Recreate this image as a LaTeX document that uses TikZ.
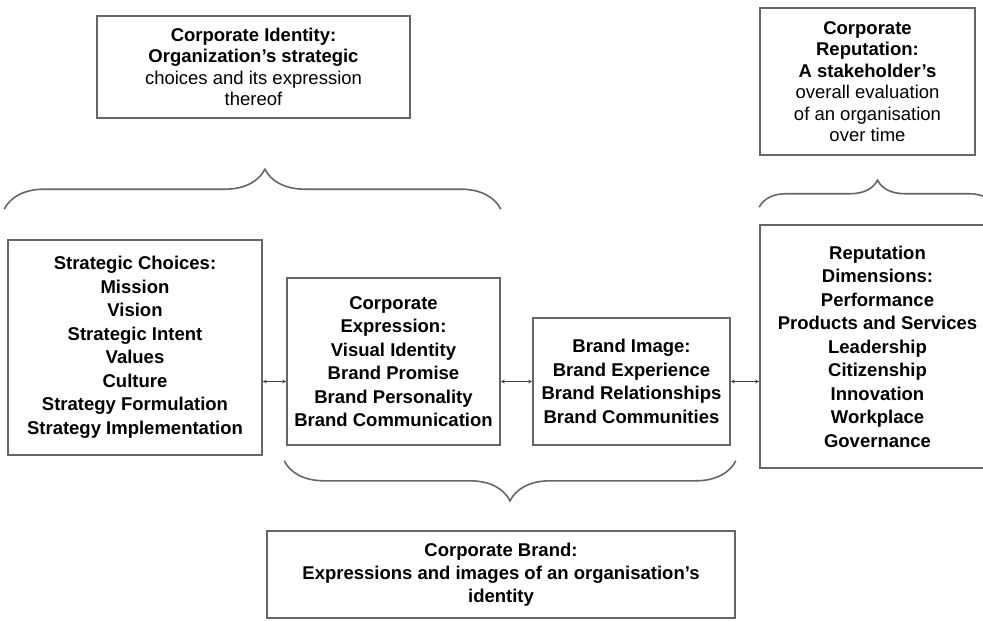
\documentclass[tikz,border=0pt]{standalone}
\usepackage{fontspec}
\setmainfont{Liberation Sans}
\usetikzlibrary{positioning}
\usetikzlibrary{arrows,shapes}
\usetikzlibrary{decorations.pathreplacing}
\usetikzlibrary{calc}
\tikzstyle{framebox}=[rectangle,draw=black!60,line width=1.6pt,align=center,inner sep=2pt,font=\bfseries\fontsize{18.5}{23.5}\selectfont]
\tikzstyle{headbox}=[framebox,font=\fontsize{18.5}{21.5}\selectfont]
\tikzstyle{link} = [draw,thick,<->,>=stealth,black!75]
\tikzstyle{curly} = [draw,line width=1.6pt,black!60,decorate]

\begin{document}
\begin{tikzpicture}[x=1pt,y=1pt]
    \useasboundingbox (0,0) rectangle (983,-621);

    % top boxes
    \node[headbox,minimum width=313pt,minimum height=102pt] (identity) at (253.5,-67)
        {\textbf{Corporate Identity:}\\ \textbf{Organization's strategic}\\ choices and its expression\\ thereof};
    \node[headbox,minimum width=215pt,minimum height=147pt] (reputation) at (867.5,-81.5)
        {\textbf{Corporate}\\ \textbf{Reputation:}\\ \textbf{A stakeholder's}\\ overall evaluation\\ of an organisation\\ over time};

    % middle row
    \node[framebox,minimum width=254pt,minimum height=215pt] (choices) at (135,-347.5)
        {Strategic Choices:\\ Mission\\ Vision\\ Strategic Intent\\ Values\\ Culture\\ Strategy Formulation\\ Strategy Implementation};
    \node[framebox,minimum width=213pt,minimum height=167pt] (expression) at (393.5,-361.5)
        {Corporate\\ Expression:\\ Visual Identity\\ Brand Promise\\ Brand Personality\\ Brand Communication};
    \node[framebox,minimum width=197pt,minimum height=127pt] (image) at (631.5,-381.5)
        {Brand Image:\\ Brand Experience\\ Brand Relationships\\ Brand Communities};
    \node[framebox,minimum width=235pt,minimum height=243pt] (dims) at (877.5,-346.5)
        {Reputation\\ Dimensions:\\ Performance\\ Products and Services\\ Leadership\\ Citizenship\\ Innovation\\ Workplace\\ Governance};

    % bottom box
    \node[framebox,font=\bfseries\fontsize{18.5}{23}\selectfont,minimum width=468pt,minimum height=87pt] (brand) at (501,-574.5)
        {Corporate Brand:\\ Expressions and images of an organisation's\\ identity};

    % links
    \foreach \source/\dest in {choices/expression, expression/image, image/dims}
        \path[link] (\source.east |- image.west) -- (\dest.west |- image.west);

    % braces
    \path[curly,decoration={brace,amplitude=40pt,aspect=0.525}]
        ($(choices.north west)+(-3,30)$) -- ($(expression.north east |- choices.north)+(0,30)$);
    \path[curly,decoration={brace,amplitude=27pt}]
        ($(dims.north west)+(0,17)$) -- ($(dims.north east)+(0,17)$);
    \path[curly,decoration={brace,amplitude=40pt}]
        ($(image.south east)+(5,-15)$) -- ($(expression.south west)+(-2,-15)$);

\end{tikzpicture}
\end{document}
